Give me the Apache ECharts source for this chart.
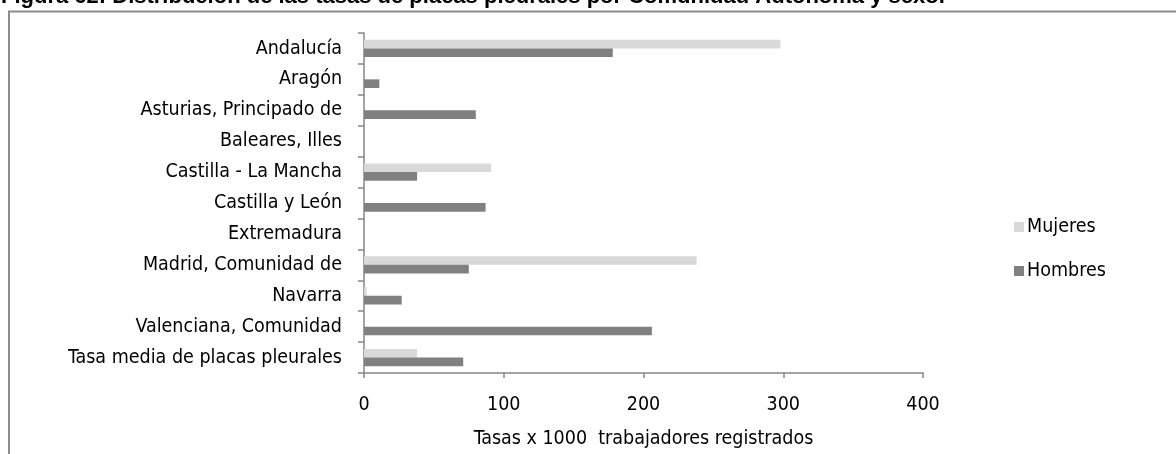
<!DOCTYPE html>
<html>
<head>
<meta charset="utf-8">
<script src="https://cdn.jsdelivr.net/npm/echarts@6/dist/echarts.min.js"></script>
<style>
html,body{margin:0;padding:0;background:#fff;}
#c{width:1176px;height:454px;}
</style>
</head>
<body>
<div id="c"></div>
<script>
const titleText = 'Figura 62: Distribución de las tasas de placas pleurales por Comunidad Autónoma y sexo.';
const categories = ['Andalucía','Aragón','Asturias, Principado de','Baleares, Illes','Castilla - La Mancha','Castilla y León','Extremadura','Madrid, Comunidad de','Navarra','Valenciana, Comunidad','Tasa media de placas pleurales'];
const mujeres = [298, 0, 0, 0, 91, 0, 0, 238, 2, 0, 38];
const hombres = [178, 11, 80, 0, 38, 87, 0, 75, 27, 206, 71];
const xTicks = [0, 100, 200, 300, 400];
const xName = 'Tasas x 1000  trabajadores registrados';

const FONT = '"DejaVu Sans Condensed", "Liberation Sans Narrow", "Liberation Sans", Arial, sans-serif';
const FS = 19.5;
const chart = echarts.init(document.getElementById('c'), null, {renderer:'canvas'});
chart.setOption({
  animation: false,
  textStyle: {fontFamily: FONT},
  graphic: [
    {type:'rect', shape:{x:9, y:11.5, width:1200, height:500}, style:{fill:'none', stroke:'#8c8c8c', lineWidth:2}, z:-1},
    {type:'text', x:1, y:7.5, style:{text:titleText, font:'bold 22px "Liberation Sans", Arial, sans-serif', fill:'#000', verticalAlign:'bottom'}}
  ],
  legend: {
    orient:'vertical', left:1009, top:212, itemWidth:10, itemHeight:10, itemGap:24,
    icon:'rect',
    textStyle:{fontFamily:FONT, fontSize:FS, color:'#000', padding:[0,0,0,-2]},
    data:['Mujeres','Hombres']
  },
  grid: {left:364, right:253, top:33, bottom:74, containLabel:false},
  xAxis: {
    type:'value', min:xTicks[0], max:xTicks[xTicks.length-1], interval:100,
    name:xName, nameLocation:'middle', nameGap:56,
    nameTextStyle:{fontFamily:FONT, fontSize:FS, color:'#000'},
    axisLine:{show:true, lineStyle:{color:'#868686', width:1.5}},
    axisTick:{show:true, length:5, lineStyle:{color:'#868686', width:1.5}},
    axisLabel:{fontFamily:FONT, fontSize:FS, color:'#000', margin:22},
    splitLine:{show:false}
  },
  yAxis: {
    type:'category', data:categories, inverse:true,
    axisLine:{show:true, lineStyle:{color:'#868686', width:1.5}},
    axisTick:{show:true, length:6, alignWithLabel:false, lineStyle:{color:'#868686', width:1.5}},
    axisLabel:{fontFamily:FONT, fontSize:FS, color:'#000', margin:22}
  },
  series: [
    {name:'Mujeres', type:'bar', data:mujeres, barGap:'0%', barCategoryGap:'44%',
      itemStyle:{color:'#d9d9d9'}},
    {name:'Hombres', type:'bar', data:hombres, barGap:'0%', barCategoryGap:'44%',
      itemStyle:{color:'#808080'}}
  ]
});
</script>
</body>
</html>
